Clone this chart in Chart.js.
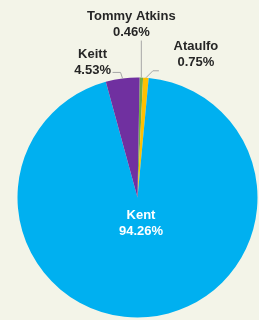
<!DOCTYPE html>
<html>
<head>
<meta charset="utf-8">
<script src="https://cdn.jsdelivr.net/npm/chart.js@4"></script>
<style>
    html, body { margin: 0; padding: 0; background: #f3f4e8; overflow: hidden; }
    #wrap { position: relative; width: 259px; height: 320px; }
</style>
</head>
<body>
<div id="wrap"><canvas id="myChart"></canvas></div>
<script>
// Mango varieties share
const varieties = ['Tommy Atkins', 'Ataulfo', 'Kent', 'Keitt'];
const shares = [0.46, 0.75, 94.26, 4.53];
const sliceColors = ['#70ad47', '#ffc000', '#00b0f0', '#7030a0'];

// label placement relative to the slice edge point (outside) or pie centre (inside)
const labelSpots = [
    { text: [-10, -61], line: [[0, -37]] },
    { text: [50, -31], line: [[7, -7], [13, -7]] },
    { inside: true, text: [3.5, 17.5] },
    { text: [-30, -24], line: [[-2, -6], [-10, -6]] }
];

const pieLabels = {
    id: 'pieLabels',
    afterDatasetsDraw(chart) {
        const ctx = chart.ctx;
        const arcs = chart.getDatasetMeta(0).data;
        ctx.save();
        ctx.font = 'bold 13px "Liberation Sans", Arial, sans-serif';
        ctx.textAlign = 'center';
        ctx.textBaseline = 'middle';
        arcs.forEach(function (arc, i) {
            const spot = labelSpots[i];
            const mid = (arc.startAngle + arc.endAngle) / 2;
            let px, py;
            if (spot.inside) {
                px = arc.x;
                py = arc.y;
                ctx.fillStyle = '#ffffff';
            } else {
                px = arc.x + Math.cos(mid) * arc.outerRadius;
                py = arc.y + Math.sin(mid) * arc.outerRadius;
                ctx.strokeStyle = '#a6a6a6';
                ctx.lineWidth = 1;
                ctx.beginPath();
                ctx.moveTo(px, py);
                spot.line.forEach(function (pt) {
                    ctx.lineTo(px + pt[0], py + pt[1]);
                });
                ctx.stroke();
                ctx.fillStyle = '#262626';
            }
            const tx = px + spot.text[0];
            const ty = py + spot.text[1];
            ctx.fillText(varieties[i], tx, ty);
            ctx.fillText(shares[i].toFixed(2) + '%', tx, ty + 16);
        });
        ctx.restore();
    }
};

const ctx = document.getElementById('myChart').getContext('2d');
const myChart = new Chart(ctx, {
    type: 'pie',
    data: {
        labels: varieties,
        datasets: [{
            data: shares,
            backgroundColor: sliceColors,
            borderWidth: 0
        }]
    },
    options: {
        responsive: true,
        maintainAspectRatio: false,
        animation: false,
        rotation: 1,
        layout: {
            padding: { left: 17.5, right: 1.5, top: 77.5, bottom: 2.5 }
        },
        plugins: {
            legend: { display: false },
            tooltip: { enabled: false }
        }
    },
    plugins: [pieLabels]
});
</script>
</body>
</html>
